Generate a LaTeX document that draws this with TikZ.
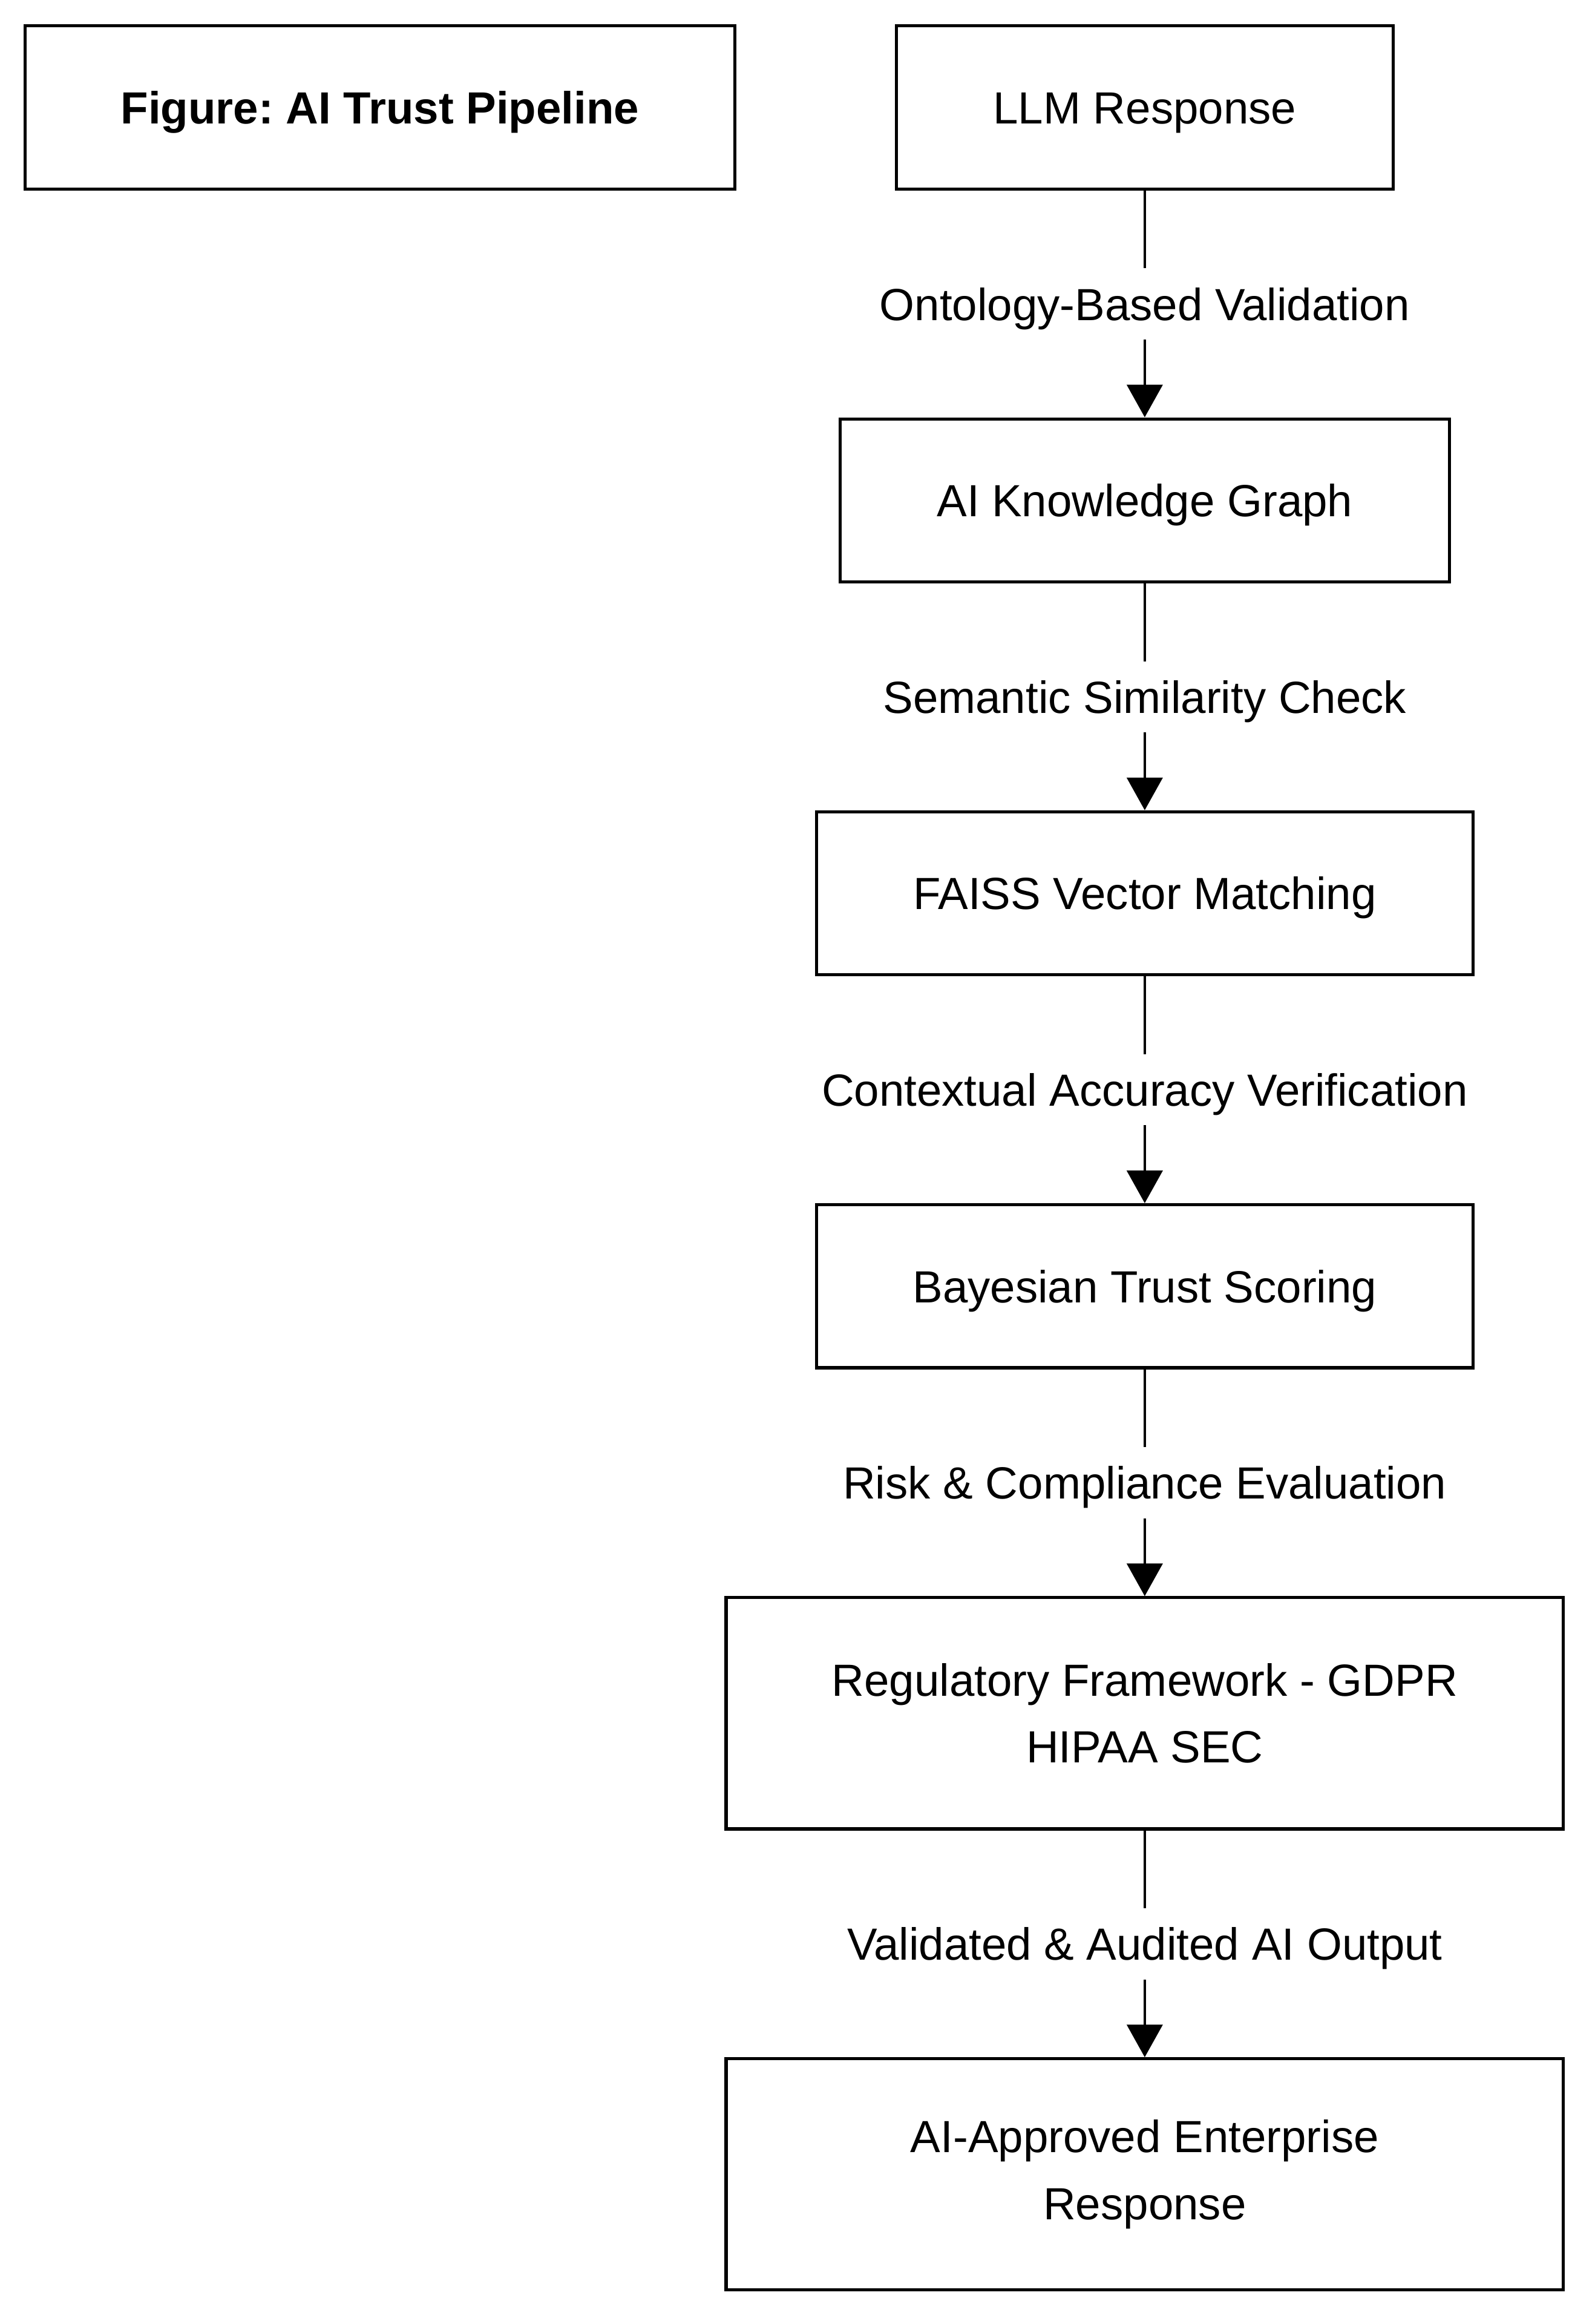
\documentclass[tikz,border=0pt]{standalone}
\usepackage{fontspec}
\setmainfont{Liberation Sans}
\usetikzlibrary{arrows.meta,positioning}
\frenchspacing

\begin{document}
\begin{tikzpicture}[
        node distance=1.53cm,
        font=\fontsize{8.65}{12.8}\selectfont,
        box/.style={draw, line width=0.6pt, minimum height=1.1cm, align=center, fill=white},
        oneline/.style={text height=0.22cm, text depth=0pt},
        lbl/.style={fill=white, inner sep=0pt, minimum height=0.48cm, text height=0.22cm, text depth=0pt},
        arr/.style={-{Triangle[length=2.2mm, width=2.4mm]}, line width=0.55pt}
      ]
        \useasboundingbox (0,0) rectangle (10.76,-15.68);
        \node[box, oneline, minimum width=3.35cm] (llm) at (7.725,-0.725) {LLM Response};
        \node[box, oneline, minimum width=4.79cm, left=1.07cm of llm, font=\fontsize{8.65}{12.8}\selectfont\bfseries] (title) {Figure: AI Trust Pipeline};
        \node[box, oneline, minimum width=4.11cm, below=of llm] (graph) {AI Knowledge Graph};
        \node[box, oneline, minimum width=4.43cm, below=of graph] (faiss) {FAISS Vector Matching};
        \node[box, oneline, minimum width=4.43cm, below=of faiss] (bayes) {Bayesian Trust Scoring};
        \node[box, minimum width=5.65cm, minimum height=1.56cm, below=of bayes] (regul) {Regulatory Framework - GDPR\\HIPAA SEC};
        \node[box, minimum width=5.65cm, minimum height=1.56cm, below=of regul] (approved) {AI-Approved Enterprise\\Response};
        \draw[arr] (llm) -- node[lbl]{Ontology-Based Validation} (graph);
        \draw[arr] (graph) -- node[lbl]{Semantic Similarity Check} (faiss);
        \draw[arr] (faiss) -- node[lbl]{Contextual Accuracy Verification} (bayes);
        \draw[arr] (bayes) -- node[lbl]{Risk \& Compliance Evaluation} (regul);
        \draw[arr] (regul) -- node[lbl]{Validated \& Audited AI Output} (approved);
      \end{tikzpicture}
\end{document}
